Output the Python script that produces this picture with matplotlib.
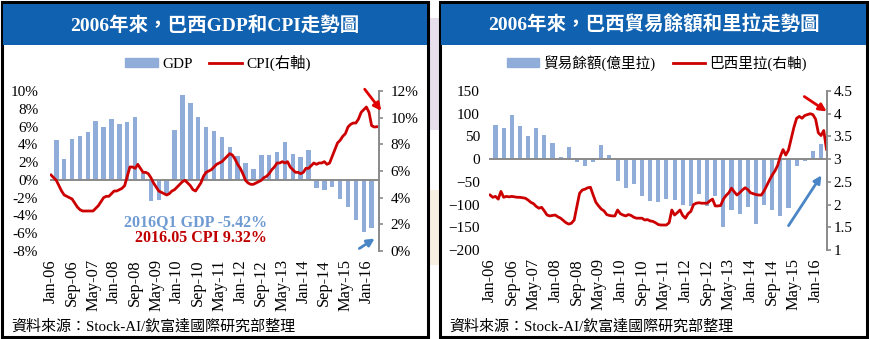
import matplotlib

matplotlib.use("Agg")
import matplotlib.pyplot as plt
import numpy as np
from matplotlib.patches import Rectangle, FancyArrowPatch
from matplotlib.lines import Line2D

W, H = 869, 339
FONT = ["Liberation Serif", "Noto Sans CJK TC"]
plt.rcParams["font.family"] = FONT

# ---------------------------------------------------------------------------
# Data (Jan-2006 .. May-2016 monthly lines, quarterly bars)
# ---------------------------------------------------------------------------
TICK_LABELS = ["Jan-06", "Sep-06", "May-07", "Jan-08", "Sep-08", "May-09",
               "Jan-10", "Sep-10", "May-11", "Jan-12", "Sep-12", "May-13",
               "Jan-14", "Sep-14", "May-15", "Jan-16"]

GDP = [4.5, 2.4, 4.6, 4.9, 5.4, 6.6, 6.0, 6.8, 6.3, 6.5, 7.1, 0.8, -2.4, -2.3,
       -1.6, 5.6, 9.5, 8.6, 7.1, 5.9, 5.5, 4.8, 3.7, 2.7, 1.9, 1.2, 2.8, 2.8,
       3.1, 4.3, 2.9, 2.6, 3.4, -0.9, -1.1, -0.8, -2.1, -3.1, -4.5, -5.9, -5.42]

CPI = [5.7, 5.5, 5.3, 4.9, 4.5, 4.2, 4.1, 4.0, 3.9, 3.6, 3.3, 3.1, 3.0, 3.0,
       3.0, 3.0, 3.0, 3.2, 3.4, 3.7, 4.0, 4.1, 4.1, 4.3, 4.5, 4.5, 4.6, 4.7,
       4.9, 5.6, 6.3, 6.3, 6.2, 6.5, 6.2, 5.9, 5.9, 5.8, 5.5, 5.1, 4.8, 4.5,
       4.4, 4.3, 4.2, 4.3, 4.5, 4.6, 4.8, 5.0, 5.2, 5.3, 5.1, 4.9, 4.6, 4.5,
       4.8, 5.1, 5.6, 5.9, 6.0, 6.1, 6.3, 6.5, 6.6, 6.7, 6.9, 7.1, 7.3, 7.2,
       6.9, 6.5, 6.2, 5.8, 5.3, 5.1, 5.0, 5.0, 5.1, 5.2, 5.3, 5.5, 5.6, 5.8,
       6.1, 6.3, 6.6, 6.6, 6.7, 6.6, 6.7, 6.3, 6.1, 5.9, 5.9, 5.8, 5.9, 6.2,
       6.2, 6.4, 6.6, 6.5, 6.6, 6.6, 6.7, 6.5, 6.6, 7.1, 7.6, 8.1, 8.3, 8.6,
       8.8, 9.3, 9.5, 9.6, 9.6, 9.9, 10.4, 10.6, 10.8, 10.4, 9.4, 9.3, 9.32]

TRADE = [76, 69, 97, 72, 51, 69, 54, 35, 4, 26, -7, -15, -7, 32, 9, -48, -64,
         -54, -81, -93, -94, -88, -90, -100, -104, -76, -103, -82, -149, -112,
         -121, -106, -143, -101, -112, -126, -108, -15, -5, 17, 34]

BRL = [2.21, 2.16, 2.18, 2.12, 2.29, 2.16, 2.18, 2.17, 2.18, 2.17, 2.16, 2.16,
       2.15, 2.14, 2.10, 2.05, 2.02, 1.96, 1.92, 1.94, 1.86, 1.77, 1.75, 1.76,
       1.77, 1.73, 1.70, 1.65, 1.60, 1.57, 1.59, 1.66, 1.96, 2.25, 2.32, 2.34,
       2.37, 2.38, 2.21, 2.05, 1.97, 1.90, 1.86, 1.78, 1.76, 1.75, 1.75, 1.88,
       1.80, 1.77, 1.75, 1.78, 1.76, 1.72, 1.70, 1.70, 1.70, 1.66, 1.67, 1.64,
       1.63, 1.60, 1.56, 1.55, 1.55, 1.55, 1.60, 1.88, 1.77, 1.82, 1.88, 1.76,
       1.70, 1.80, 1.85, 2.00, 2.03, 2.04, 2.03, 2.03, 2.03, 2.08, 2.12, 1.97,
       1.97, 1.98, 2.12, 2.20, 2.26, 2.36, 2.28, 2.21, 2.26, 2.32, 2.37, 2.33,
       2.26, 2.24, 2.22, 2.21, 2.21, 2.30, 2.42, 2.54, 2.65, 2.74, 2.86, 3.06,
       3.21, 3.09, 3.20, 3.45, 3.70, 3.90, 3.94, 3.90, 3.96, 3.98, 4.00, 3.98,
       3.88, 3.58, 3.52, 3.63, 3.22]

BAR_COLOR = "#8fadd8"
LINE_COLOR = "#cc0000"
AXIS_GRAY = "#8a8a8a"
TITLE_BLUE = "#1061b0"
SOURCE = "資料來源：Stock-AI/欽富達國際研究部整理"


def px_axes(fig, x0, y0, x1, y1):
    """Add axes from pixel box (top-left origin)."""
    return fig.add_axes([x0 / W, 1 - y1 / H, (x1 - x0) / W, (y1 - y0) / H])


def fig_xy(x, y):
    return x / W, 1 - y / H


def arrow(fig, start, end, color):
    fig.add_artist(FancyArrowPatch(
        fig_xy(*start), fig_xy(*end), transform=fig.transFigure,
        arrowstyle="-|>", mutation_scale=11, color=color, lw=2))


def panel_frame(fig, x0, x1, title):
    fig.add_artist(Rectangle(fig_xy(x0, 337), (x1 - x0) / W, 335 / H,
                             transform=fig.transFigure, fill=False,
                             edgecolor="black", lw=2.2))
    fig.add_artist(Rectangle(fig_xy(x0 + 1, 45), (x1 - x0 - 2) / W, 41 / H,
                             transform=fig.transFigure, facecolor=TITLE_BLUE,
                             edgecolor="none"))
    fig.text(*fig_xy((x0 + x1) / 2, 25), title, color="white", fontsize=14,
             fontweight="bold", ha="center", va="center")
    fig.text(*fig_xy(x0 + 9, 326), SOURCE, fontsize=10.8, ha="left",
             va="center")


def style_axes(ax, ax2, xmax, pad_left, pad_right, tick_len):
    for side in ("top", "bottom", "left", "right"):
        ax.spines[side].set_visible(False)
        ax2.spines[side].set_visible(side == "right")
    ax2.spines["right"].set_color(AXIS_GRAY)
    ax2.spines["right"].set_linewidth(1.4)
    ax.axhline(0, color=AXIS_GRAY, lw=1.4, zorder=3)
    ax.set_xlim(-0.4, xmax)
    ax.set_xticks(np.arange(0, 8 * len(TICK_LABELS), 8))
    ax.set_xticklabels(TICK_LABELS, rotation=90, fontsize=11.8)
    ax.tick_params(axis="x", length=0, pad=6)
    ax.tick_params(axis="y", length=0, pad=pad_left, labelsize=11)
    ax2.tick_params(axis="y", length=tick_len, width=1.2, color=AXIS_GRAY,
                    pad=pad_right, labelsize=11)


fig = plt.figure(figsize=(W / 100, H / 100), dpi=100)
fig.patch.set_facecolor("white")

# gap decoration between panels
fig.add_artist(Rectangle(fig_xy(429, 130), 10 / W, 112 / H,
                         transform=fig.transFigure, facecolor="#e8dfec",
                         edgecolor="none"))
fig.add_artist(Rectangle(fig_xy(429, 265), 10 / W, 75 / H,
                         transform=fig.transFigure, facecolor="#f6efe2",
                         edgecolor="none"))

# ---------------------------------------------------------------------------
# Left panel: GDP & CPI
# ---------------------------------------------------------------------------
panel_frame(fig, 2, 428, "2006年來，巴西GDP和CPI走勢圖")
ax = px_axes(fig, 50, 91, 379, 251)
ax2 = ax.twinx()
quarter_x = np.arange(len(GDP)) * 3 + 2
month_x = np.arange(len(CPI))
ax.bar(quarter_x, GDP, width=1.7, color=BAR_COLOR, zorder=2)
ax2.plot(month_x, CPI, color=LINE_COLOR, lw=2)
ax.set_ylim(-8, 10)
ax.set_yticks(np.arange(-8, 11, 2))
ax.set_yticklabels([f"{v}%" for v in range(-8, 11, 2)])
ax2.set_ylim(0, 12)
ax2.set_yticks(np.arange(0, 13, 2))
ax2.set_yticklabels([f"{v}%" for v in range(0, 13, 2)])
style_axes(ax, ax2, 124.8, 8.5, 5.5, 3)

handles = [Rectangle((0, 0), 1, 1, color=BAR_COLOR),
           Line2D([], [], color=LINE_COLOR, lw=2)]
fig.legend(handles, ["GDP", "CPI(右軸)"], loc="center",
           bbox_to_anchor=fig_xy(218, 63), ncol=2, frameon=False,
           fontsize=11, handlelength=2.2, handleheight=0.5,
           columnspacing=1.0, handletextpad=0.3)

fig.text(*fig_xy(196, 222), "2016Q1 GDP -5.42%", color="#6f9bd2",
         fontsize=11.5, fontweight="bold", ha="center", va="center")
fig.text(*fig_xy(201, 238), "2016.05 CPI 9.32%", color="#c00000",
         fontsize=11.5, fontweight="bold", ha="center", va="center")
arrow(fig, (363, 87), (383, 113), "#e00000")
arrow(fig, (357, 250), (377, 237), "#4a86c5")

# ---------------------------------------------------------------------------
# Right panel: trade balance & BRL
# ---------------------------------------------------------------------------
panel_frame(fig, 440, 867, "2006年來，巴西貿易餘額和里拉走勢圖")
bx = px_axes(fig, 489, 91, 827, 250)
bx2 = bx.twinx()
bx.bar(np.arange(len(TRADE)) * 3 + 2, TRADE, width=1.5, color=BAR_COLOR,
       zorder=2)
bx2.plot(np.arange(len(BRL)), BRL, color=LINE_COLOR, lw=2)
bx.set_ylim(-200, 150)
bx.set_yticks(np.arange(-200, 151, 50))
bx2.set_ylim(1, 4.5)
bx2.set_yticks(np.arange(1, 4.6, 0.5))
bx2.set_yticklabels(["1", "1.5", "2", "2.5", "3", "3.5", "4", "4.5"])
style_axes(bx, bx2, 124.2, 6.5, 1.5, 3)

fig.legend(handles, ["貿易餘額(億里拉)", "巴西里拉(右軸)"], loc="center",
           bbox_to_anchor=fig_xy(657, 63), ncol=2, frameon=False,
           fontsize=10.5, handlelength=2.2, handleheight=0.5,
           columnspacing=1.2, handletextpad=0.3)

arrow(fig, (802, 95), (829, 113), "#e00000")
arrow(fig, (787, 228), (823, 173), "#4a86c5")

fig.savefig("out.png", dpi=100)
